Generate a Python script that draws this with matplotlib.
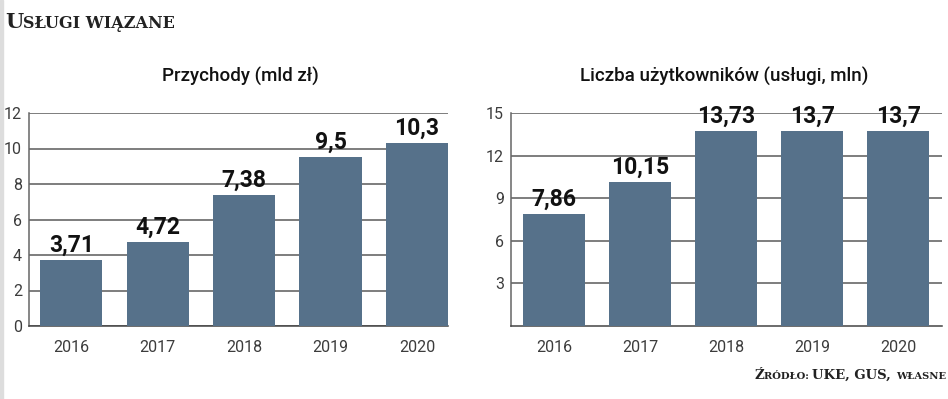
import matplotlib
matplotlib.use("Agg")
import matplotlib.pyplot as plt
from matplotlib.patches import Rectangle

# data
years = ["2016", "2017", "2018", "2019", "2020"]
revenue = [3.71, 4.72, 7.38, 9.5, 10.3]
users = [7.86, 10.15, 13.73, 13.7, 13.7]
revenue_labels = ["3,71", "4,72", "7,38", "9,5", "10,3"]
users_labels = ["7,86", "10,15", "13,73", "13,7", "13,7"]
revenue_ticks = [0, 2, 4, 6, 8, 10, 12]
users_ticks = [3, 6, 9, 12, 15]

BAR = "#56718a"
GRID = "#5a5a5a"
SANS = ["Roboto", "DejaVu Sans"]
SERIF = ["DejaVu Serif"]

fig = plt.figure(figsize=(9.48, 3.99), dpi=100)
W, H = 948, 399


def px_axes(x0, x1, ytop, ybot):
    return fig.add_axes([x0 / W, (H - ybot) / H, (x1 - x0) / W, (ybot - ytop) / H])


def draw(ax, vals, labels, ticks, ymax, xlim):
    x = list(range(len(vals)))
    ax.bar(x, vals, width=0.72, color=BAR, zorder=3)
    ax.set_xlim(*xlim)
    ax.set_ylim(0, ymax)
    ax.set_yticks(ticks)
    ax.set_yticklabels([str(t) for t in ticks], family=SANS, fontsize=11.5,
                       fontweight="normal", color="#3c3c3c")
    ax.set_xticks(x)
    ax.set_xticklabels(years, family=SANS, fontsize=11.5, fontweight="normal",
                       color="#3c3c3c")
    ax.tick_params(axis="both", length=0)
    ax.tick_params(axis="x", pad=10)
    ax.tick_params(axis="y", pad=5)
    ax.grid(axis="y", color=GRID, linewidth=1.1, zorder=1)
    for s in ["top", "right"]:
        ax.spines[s].set_visible(False)
    ax.spines["left"].set_color("#666")
    ax.spines["bottom"].set_color("#444")
    ax.spines["left"].set_linewidth(1.1)
    ax.spines["bottom"].set_linewidth(1.1)
    for xi, v, lab in zip(x, vals, labels):
        ax.annotate(lab, (xi, v), xytext=(0, 6), textcoords="offset points",
                    ha="center", va="baseline", family=SANS, fontsize=16.5,
                    fontweight="bold", color="#111", zorder=4)


ax1 = px_axes(29, 448, 113, 326)
draw(ax1, revenue, revenue_labels, revenue_ticks, 12, (-0.49, 4.36))

ax2 = px_axes(511, 942, 113, 326)
draw(ax2, users, users_labels, users_ticks, 15, (-0.5, 4.51))

# chart titles
fig.text(240 / W, (H - 82) / H, "Przychody (mld zł)", ha="center", va="baseline",
         family=SANS, fontsize=13.5, fontweight="medium", color="#111")
fig.text(724 / W, (H - 82) / H, "Liczba użytkowników (usługi, mln)", ha="center",
         va="baseline", family=SANS, fontsize=13.5, fontweight="medium", color="#111")

# faint border on the left edge
fig.patches.append(Rectangle((0, 0), 3 / W, 1, transform=fig.transFigure,
                             color="#dddddd", zorder=0))


def smallcaps(pieces, x, y, ha="left"):
    # pieces: list of (text, size), laid out left to right
    texts = [fig.text(0, y, txt, fontsize=size, family=SERIF, fontweight="bold",
                      color="#222", va="baseline", ha="left") for txt, size in pieces]
    fig.canvas.draw()
    r = fig.canvas.get_renderer()
    widths = [t.get_window_extent(r).width for t in texts]
    cur = x * W if ha == "left" else x * W - sum(widths)
    for t, w in zip(texts, widths):
        t.set_position((cur / W, y))
        cur += w


smallcaps([("U", 15), ("SŁUGI WIĄZANE", 11.5)], 5 / W, (H - 28) / H)
smallcaps([("Ź", 9.5), ("RÓDŁO: ", 7.2), ("UKE, GUS, ", 9.5), ("WŁASNE", 7.2)],
          946 / W, (H - 379) / H, ha="right")

fig.savefig("out.png", dpi=100)
